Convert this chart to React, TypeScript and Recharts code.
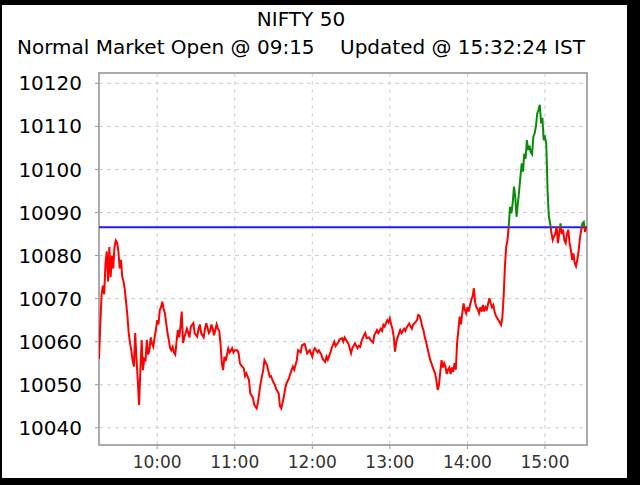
import React from "react";
import {
  LineChart,
  Line,
  XAxis,
  YAxis,
  CartesianGrid,
  ReferenceLine,
  ReferenceArea,
} from "recharts";

const titleText = "NIFTY 50";
const subtitleText = "Normal Market Open @ 09:15    Updated @ 15:32:24 IST";

const times: string[] = [
  "09:15","09:16","09:17","09:18","09:19","09:20","09:21","09:22","09:23","09:24",
  "09:25","09:26","09:27","09:28","09:29","09:30","09:31","09:32","09:33","09:34",
  "09:35","09:36","09:37","09:38","09:39","09:40","09:41","09:42","09:43","09:44",
  "09:45","09:46","09:47","09:48","09:49","09:50","09:51","09:52","09:53","09:54",
  "09:55","09:56","09:57","09:58","09:59",
  "10:00","10:01","10:02","10:03","10:04","10:05","10:06","10:07","10:08","10:09",
  "10:10","10:11","10:12","10:13","10:14","10:15","10:16","10:17","10:18","10:19",
  "10:20","10:21","10:22","10:23","10:25","10:26","10:28","10:29","10:31","10:32",
  "10:33","10:34","10:36","10:37","10:38","10:40","10:41","10:42","10:43","10:44",
  "10:46","10:47","10:48","10:49","10:50","10:51","10:52","10:53","10:55","10:56",
  "10:58","10:59",
  "11:00","11:02","11:03","11:04","11:05","11:07","11:08","11:09","11:11","11:12",
  "11:14","11:15","11:16","11:17","11:18","11:20","11:22","11:23","11:25","11:27",
  "11:28","11:30","11:31","11:32","11:34","11:35","11:36","11:38","11:39","11:40",
  "11:42","11:43","11:45","11:46","11:48","11:49","11:51","11:52","11:54","11:55",
  "11:56","11:58",
  "12:00","12:01","12:02","12:04","12:05","12:07","12:08","12:10","12:11","12:12",
  "12:14","12:15","12:17","12:18","12:20","12:21","12:23","12:24","12:25","12:27",
  "12:28","12:30","12:31","12:33","12:35","12:36","12:37","12:38","12:40","12:41",
  "12:42","12:44","12:45","12:47","12:48","12:50","12:51","12:53","12:54","12:55",
  "12:56","12:58","12:59",
  "13:00","13:01","13:02","13:03","13:04","13:05","13:06","13:08","13:09","13:11",
  "13:12","13:13","13:15","13:16","13:17","13:18","13:20","13:21","13:22","13:23",
  "13:24","13:25","13:26","13:27","13:28","13:30","13:31","13:33","13:35","13:36",
  "13:37","13:38","13:39","13:40","13:41","13:42","13:43","13:44","13:45","13:46",
  "13:47","13:48","13:49","13:50","13:51","13:52","13:53","13:54","13:55","13:56",
  "13:57","13:58","13:59",
  "14:00","14:01","14:02","14:03","14:04","14:05","14:06","14:07","14:08","14:09",
  "14:10","14:11","14:12","14:13","14:14","14:15","14:17","14:18","14:19","14:20",
  "14:21","14:22","14:23","14:24","14:25","14:26","14:27","14:28","14:29","14:30",
  "14:31","14:32","14:33","14:34","14:35","14:36","14:37","14:38","14:39","14:40",
  "14:41","14:42","14:43","14:44","14:45","14:46","14:47","14:48","14:49","14:50",
  "14:51","14:52","14:53","14:54","14:55","14:56","14:57","14:58","14:59",
  "15:00","15:01","15:02","15:03","15:04","15:05","15:06","15:07","15:08","15:09",
  "15:10","15:11","15:12","15:13","15:14","15:15","15:16","15:17","15:18","15:19",
  "15:20","15:21","15:22","15:23","15:24","15:25","15:26","15:27","15:28","15:29",
  "15:30","15:31","15:32",
];

const prices: number[] = [
  10056,10064,10071,10073,10071,10078,10081,10074,10082,10075,
  10080,10077,10082,10083.5,10083,10081,10077,10079,10075,10074,
  10072,10069,10066,10062,10059.7,10058,10055.7,10054.2,10062,10056,
  10051,10045.3,10053.4,10060.4,10053.4,10056,10055.7,10060.4,10057,10058,
  10061,10059.5,10058.8,10061,10062.7,
  10065,10064,10067.3,10068,10069.3,10067.5,10066.6,10064.3,10062,10060.4,
  10058.5,10058,10058.8,10057.5,10057,10060,10062.7,10061,10063.5,10067,
  10059.7,10061,10062,10063,10061,10063.5,10064.3,10062,10061.2,10063,
  10064,10062,10061,10063,10064.3,10062,10062.5,10064,10063,10061.5,
  10064,10063,10062.5,10059.6,10055,10053.4,10056.5,10055.5,10058.4,10057.5,
  10058.5,10057.5,
  10058,10058,10057.3,10055,10054.5,10053.8,10052,10052.6,10051.1,10048,
  10047,10045.5,10044.9,10044.5,10046,10050.3,10053.4,10055.7,10054.5,10051.9,
  10052,10050.5,10050,10049,10048,10045,10044.5,10047.2,10049,10050.3,
  10051.5,10052.6,10054.2,10053.5,10055.7,10058,10057.5,10059.2,10059.5,10058.5,
  10057.3,10058,
  10056.5,10058,10058.5,10057.5,10058,10057,10056,10055.3,10056.5,10055.8,
  10057.5,10058.5,10060,10059,10059.8,10060.5,10060.8,10060,10061,10060,
  10059.5,10057.3,10058.5,10059.6,10058.5,10059,10058.8,10060,10061.5,10062,
  10060.8,10061,10060.4,10059.8,10061.5,10062.7,10062,10063,10062.5,10063.9,
  10063.5,10065,10064.5,
  10065.4,10064,10063,10061.1,10057.7,10060,10061,10062.7,10062,10063,
  10062.5,10063.3,10064.2,10063.5,10063,10064,10064.6,10065,10066.2,10066,
  10065,10063.5,10062.7,10061,10060,10057.3,10056,10054.2,10052.6,10051,
  10048.8,10050,10053,10055.7,10054,10055,10054.2,10052.5,10053.5,10054,
  10052.5,10054,10053,10055,10053.5,10059.6,10062.7,10065.8,10064,10066.5,
  10068.9,10067.5,10066.6,
  10068,10067,10068.5,10069.7,10070.5,10072.4,10069,10068,10067.5,10066.6,
  10068,10067,10068.5,10067,10068,10067.5,10070.1,10069,10068,10068.5,
  10067,10066,10065.5,10065,10064.5,10063.9,10065.5,10070.4,10077.4,10082,
  10083.6,10087.1,10091.3,10089.8,10092.1,10096,10093.7,10089,10092,10095,
  10098.3,10101.4,10099.5,10103.7,10102.5,10106.8,10104.5,10105.5,10104,10103.5,
  10107.6,10108.4,10110,10113,10113.8,10115,10110.7,10112,10106.8,
  10107.5,10106,10095,10089,10087.5,10085.2,10083.6,10084.5,10085,10086.7,
  10082.9,10085,10087.5,10085,10086,10083.5,10082.9,10085,10086,10083,
  10081.3,10079,10080.5,10078.2,10077.5,10079,10081,10084,10085.9,10087.5,
  10087.8,10085.5,10086.5,
];

const xTickLabels: string[] = ["10:00", "11:00", "12:00", "13:00", "14:00", "15:00"];
const yTicks: number[] = [10040, 10050, 10060, 10070, 10080, 10090, 10100, 10110, 10120];
const previousClose = 10086.6;
const xDomainStart = "09:15";
const xDomainEndMinutes = 932.5;
const yDomain: [number, number] = [10036, 10122.4];

const toMinutes = (t: string) => {
  const [h, m] = t.split(":").map(Number);
  return h * 60 + m;
};
const fmt = (v: number) => {
  const h = Math.floor(v / 60);
  const m = Math.round(v % 60);
  return `${h}:${m < 10 ? "0" : ""}${m}`;
};

const data = times.map((t, i) => ({ t: toMinutes(t), price: prices[i] }));
const xTicks = xTickLabels.map(toMinutes);
const xMin = toMinutes(xDomainStart);

const pMax = Math.max(...prices);
const pMin = Math.min(...prices);
const splitOffset = (pMax - previousClose) / (pMax - pMin);

const FONT = "'DejaVu Sans', sans-serif";

export default function App() {
  return (
    <div
      style={{
        position: "absolute",
        left: 0,
        top: 0,
        width: 640,
        height: 485,
        background: "#000",
        overflow: "hidden",
      }}
    >
      <div
        style={{
          position: "absolute",
          left: 2,
          top: 5,
          width: 625,
          height: 473,
          background: "#fff",
        }}
      />
      <div
        style={{
          position: "absolute",
          left: 0,
          top: 9,
          width: 602,
          textAlign: "center",
          fontFamily: FONT,
          fontSize: 20,
          lineHeight: "20px",
          color: "#000",
        }}
      >
        {titleText}
      </div>
      <div
        style={{
          position: "absolute",
          left: 17,
          top: 37,
          whiteSpace: "pre",
          fontFamily: FONT,
          fontSize: 20,
          lineHeight: "20px",
          color: "#000",
        }}
      >
        {subtitleText}
      </div>
      <div style={{ position: "absolute", left: 0, top: 0 }}>
        <LineChart
          width={640}
          height={485}
          data={data}
          margin={{ top: 73, right: 53, bottom: 0, left: 0 }}
        >
          <defs>
            <linearGradient id="priceSplit" x1="0" y1="0" x2="0" y2="1">
              <stop offset={0} stopColor="#0a8a0a" />
              <stop offset={splitOffset} stopColor="#0a8a0a" />
              <stop offset={splitOffset} stopColor="#ff0000" />
              <stop offset={1} stopColor="#ff0000" />
            </linearGradient>
          </defs>
          <CartesianGrid stroke="#cfcfcf" strokeDasharray="4 4" />
          <XAxis
            dataKey="t"
            type="number"
            domain={[xMin, xDomainEndMinutes]}
            ticks={xTicks}
            tickFormatter={fmt}
            allowDataOverflow
            height={40}
            tickSize={4}
            tickMargin={7}
            axisLine={false}
            tickLine={{ stroke: "#999" }}
            tick={{ fontFamily: FONT, fontSize: 17, fill: "#333" }}
          />
          <YAxis
            type="number"
            domain={yDomain}
            ticks={yTicks}
            allowDataOverflow
            width={99}
            tickSize={4}
            tickMargin={13}
            axisLine={false}
            tickLine={{ stroke: "#999" }}
            tick={{ fontFamily: FONT, fontSize: 20, fill: "#000" }}
          />
          <ReferenceArea
            x1={xMin}
            x2={xDomainEndMinutes}
            y1={yDomain[0]}
            y2={yDomain[1]}
            fill="none"
            stroke="#aaaaaa"
            strokeWidth={2}
          />
          <ReferenceLine y={previousClose} stroke="#1c1cff" strokeWidth={2} />
          <Line
            type="linear"
            dataKey="price"
            stroke="url(#priceSplit)"
            strokeWidth={2}
            dot={false}
            activeDot={false}
            isAnimationActive={false}
          />
        </LineChart>
      </div>
    </div>
  );
}
